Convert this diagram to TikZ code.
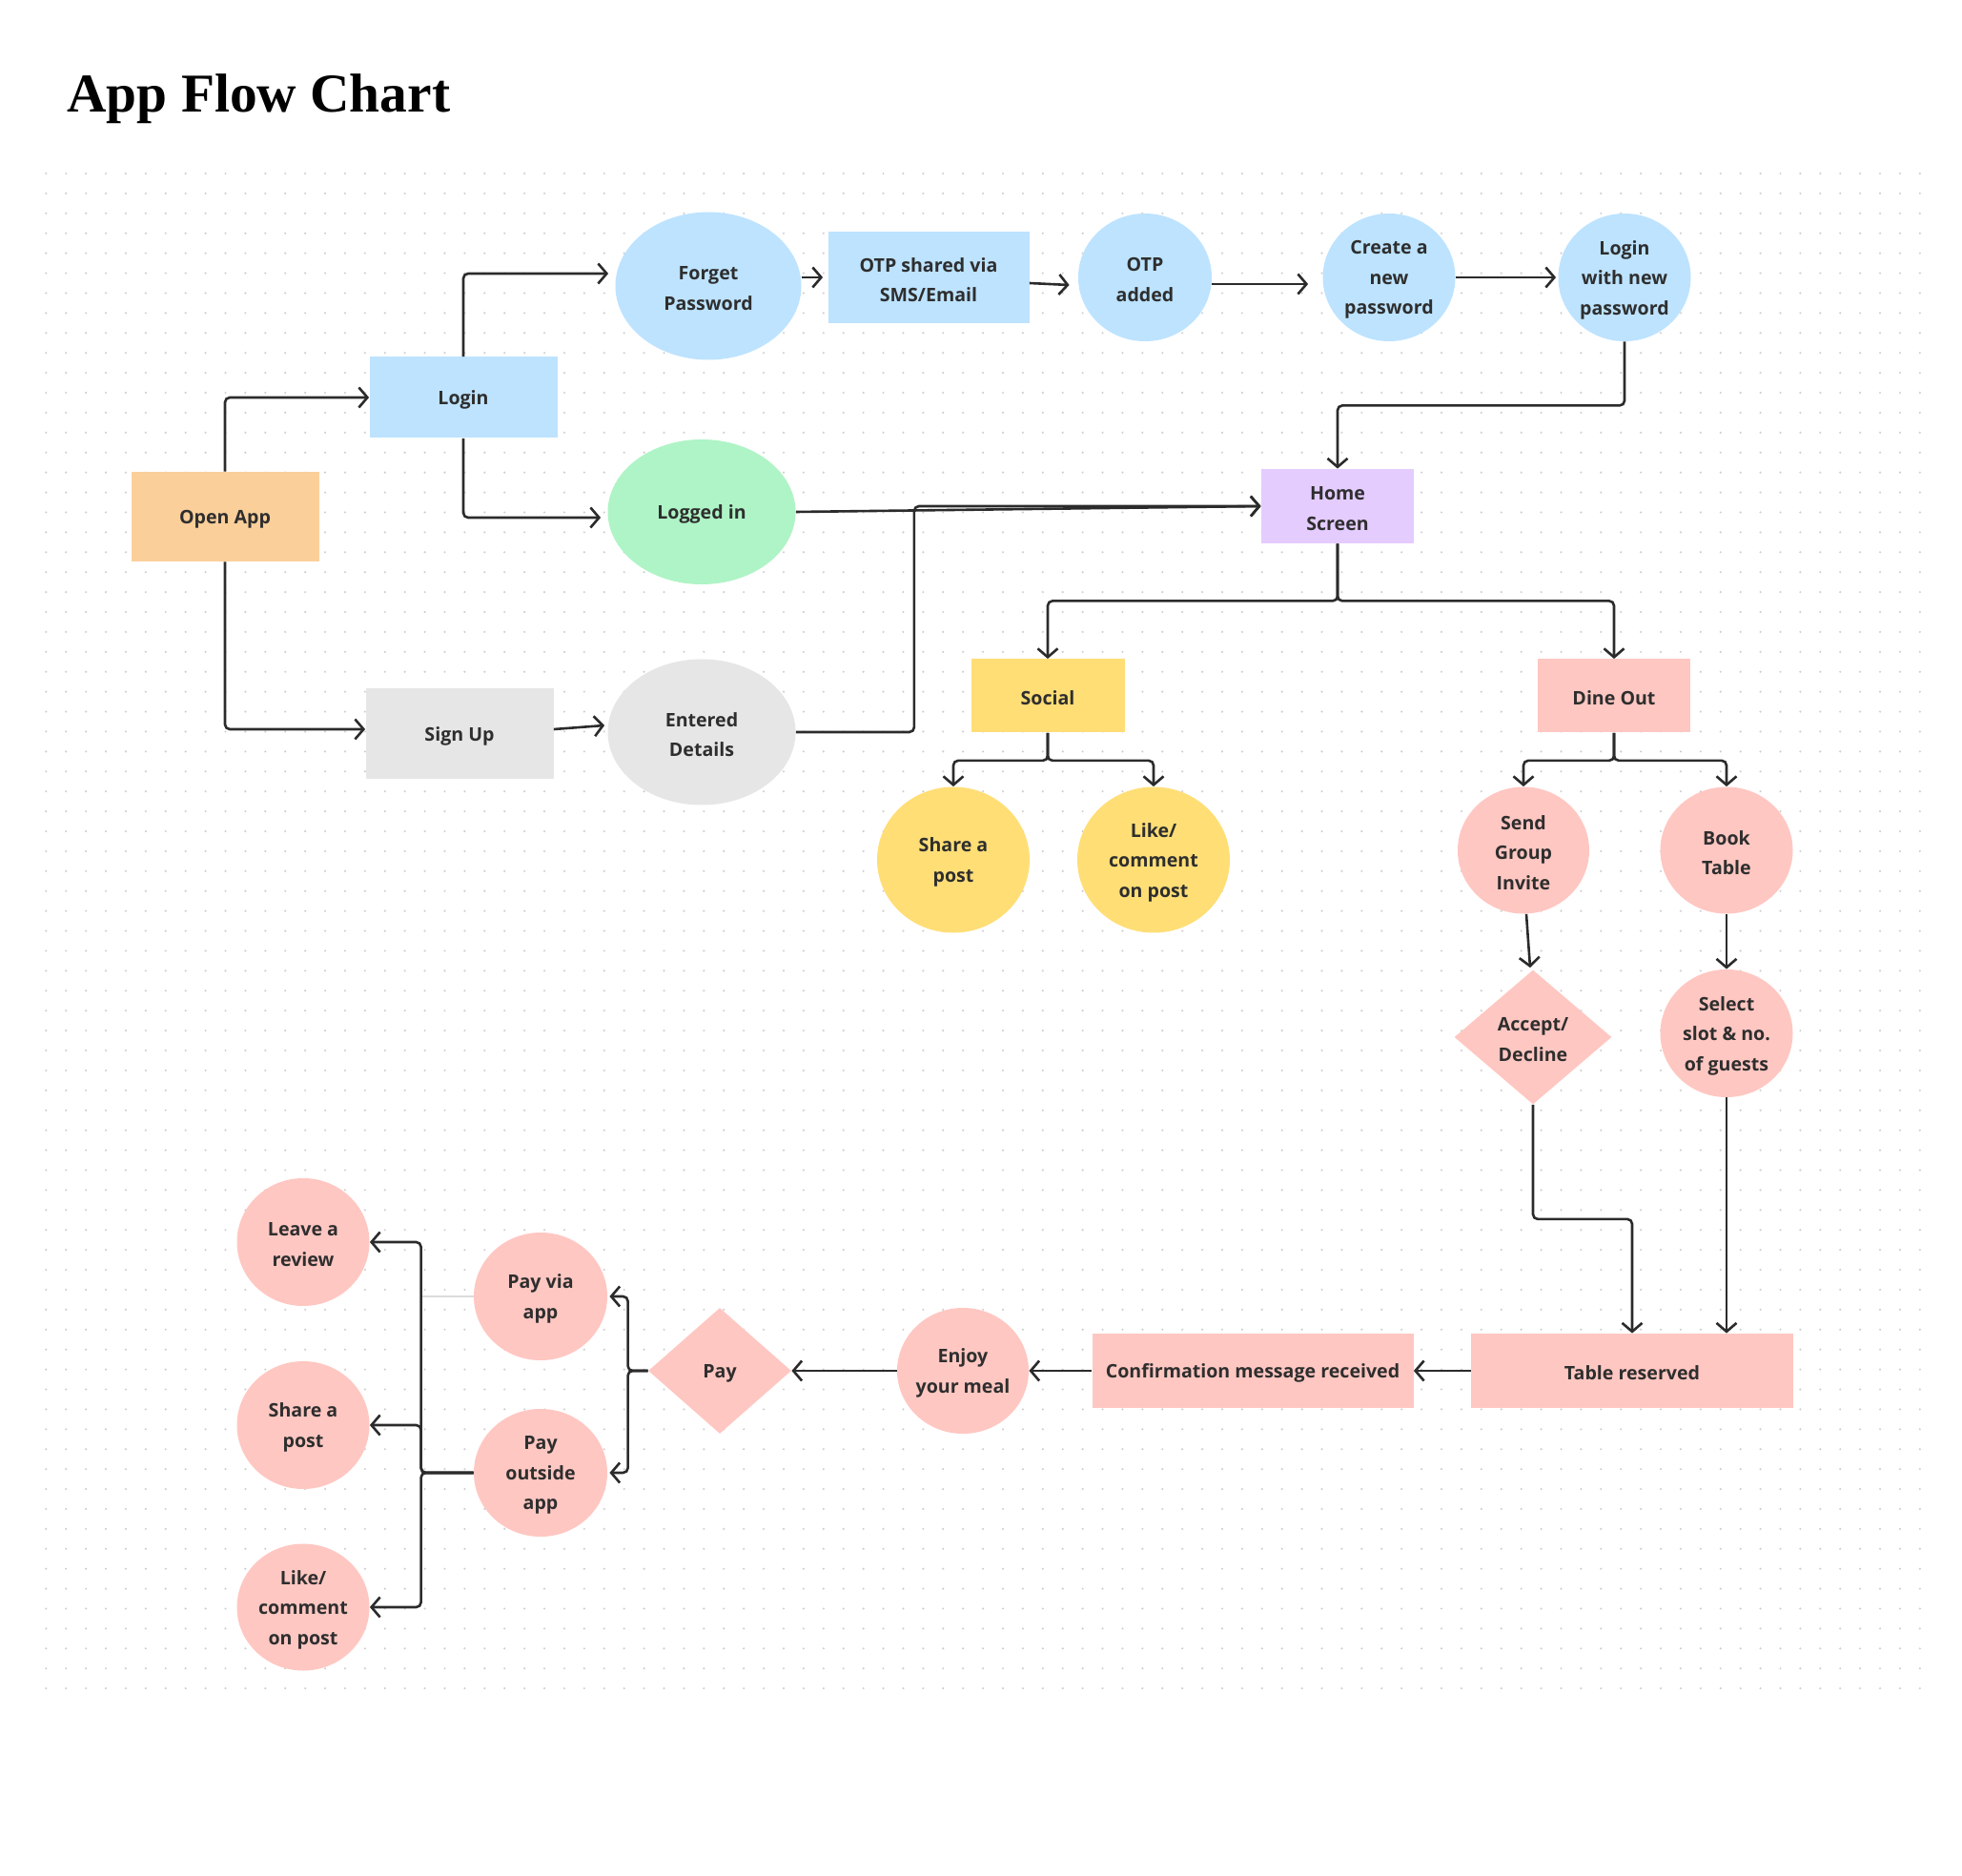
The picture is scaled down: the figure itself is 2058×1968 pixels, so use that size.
\documentclass[tikz,border=0pt]{standalone}
\usepackage{fontspec}
\setmainfont{Open Sans}
\newfontfamily\titlefont{Liberation Serif}
\usetikzlibrary{shapes.geometric,arrows.meta,calc}
\definecolor{ink}{HTML}{2E2E2E}
\definecolor{linec}{HTML}{2B2B2B}
\definecolor{dotc}{HTML}{D0D0D0}
\definecolor{faint}{HTML}{DCDCDC}
\definecolor{peach}{HTML}{FBCF9A}
\definecolor{sky}{HTML}{BDE3FF}
\definecolor{mint}{HTML}{AFF4C6}
\definecolor{mist}{HTML}{E6E6E6}
\definecolor{lilac}{HTML}{E4CCFF}
\definecolor{sun}{HTML}{FFDE76}
\definecolor{rose}{HTML}{FFC7C2}

% shape node plus its centred caption:
% #1 style, #2 width, #3 height (px), #4 name, #5 position, #6 caption
\newcommand\flownode[6]{%
  \node[#1, sz={#2}{#3}] (#4) at (#5) {};
  \node[lbl] (#4-t) at ([yshift=-1.3pt]#4.center) {#6};}

\begin{document}
\begin{tikzpicture}[x=0.5pt,y=-0.5pt,
  lbl/.style={font=\fontsize{9.8}{15.75}\selectfont\bfseries, text=ink, align=center, inner sep=0pt},
  sz/.style 2 args={minimum width=#1*0.5pt, minimum height=#2*0.5pt, inner sep=0pt, draw=none},
  box/.style={rectangle},
  oval/.style={ellipse},
  dia/.style={diamond, aspect=1},
  link/.style={draw=linec, line width=1.3pt, rounded corners=2.5pt,
    -{Straight Barb[length=4.5pt,width=10.5pt]}},
]
% page and background grid of dots
\fill[white] (0,0) rectangle (2058,1968);
\useasboundingbox (0,0) rectangle (2058,1968);
\foreach \j in {0,...,76}{
  \fill[dotc] \foreach \i in {0,...,94}{ ({48.3+20.91*\i},{182+20.91*\j}) circle (0.6pt) };
}

% title
\node[anchor=base west, inner sep=0pt, text=black,
  font=\titlefont\bfseries\fontsize{28.7}{32}\selectfont] (title) at (70,118) {App Flow Chart};

% entry and authentication
\flownode{box, fill=peach}{197}{94}{open}{236,542}{Open App}
\flownode{box, fill=sky}{197}{85}{login}{486,417}{Login}
\flownode{box, fill=mist}{197}{95}{signup}{482,770}{Sign Up}
\flownode{oval, fill=sky}{195}{155}{forgot}{743,300}{Forget\\Password}
\flownode{oval, fill=mint}{197}{152}{loggedin}{736,537}{Logged in}
\flownode{oval, fill=mist}{197}{153}{entered}{736,768}{Entered\\Details}
\flownode{box, fill=sky}{211}{96}{otpshared}{974,291}{OTP shared via\\SMS/Email}
\flownode{oval, fill=sky}{140}{134}{otpadded}{1201,291}{OTP\\added}
\flownode{oval, fill=sky}{139}{134}{newpw}{1457,291}{Create a\\new\\password}
\flownode{oval, fill=sky}{139}{134}{loginnew}{1704,291}{Login\\with new\\password}

% home and branches
\flownode{box, fill=lilac}{160}{78}{home}{1403,531}{Home\\Screen}
\flownode{box, fill=sun}{161}{77}{social}{1099,730}{Social}
\flownode{box, fill=rose}{160}{77}{dine}{1693,730}{Dine Out}
\flownode{oval, fill=sun}{160}{153}{shareY}{1000,902}{Share a\\post}
\flownode{oval, fill=sun}{160}{153}{likeY}{1210,902}{Like/\\comment\\on post}
\flownode{oval, fill=rose}{138}{133}{invite}{1598,892}{Send\\Group\\Invite}
\flownode{oval, fill=rose}{139}{133}{book}{1811,892}{Book\\Table}
\flownode{dia, fill=rose}{165}{141}{accept}{1608,1088}{Accept/\\Decline}
\flownode{oval, fill=rose}{139}{134}{slot}{1811,1084}{Select\\slot \& no.\\of guests}
\flownode{box, fill=rose}{338}{78}{reserved}{1712,1438}{Table reserved}
\flownode{box, fill=rose}{337}{78}{confirm}{1314,1438}{Confirmation message received}
\flownode{oval, fill=rose}{138}{132}{enjoy}{1010,1438}{Enjoy\\your meal}
\flownode{dia, fill=rose}{150}{132}{pay}{755,1438}{Pay}
\flownode{oval, fill=rose}{140}{134}{payapp}{567,1360}{Pay via\\app}
\flownode{oval, fill=rose}{140}{134}{payout}{567,1545}{Pay\\outside\\app}
\flownode{oval, fill=rose}{139}{134}{review}{318,1303}{Leave a\\review}
\flownode{oval, fill=rose}{139}{134}{shareP}{318,1495}{Share a\\post}
\flownode{oval, fill=rose}{139}{133}{likeP}{318,1686}{Like/\\comment\\on post}

% connectors: authentication
\draw[link] (open.north) |- (login.west);
\draw[link] (open.south) |- ([yshift=2.5pt]signup.west);
\draw[link] (login.north) |- ([shift={(-7,-13)}]forgot.west);
\draw[link] (login.south) |- ([shift={(-7,6)}]loggedin.west);
\draw[link] ([shift={(0,-5)}]signup.east) -- ([shift={(-3,-7)}]entered.west);
\draw[link] ([shift={(0,-9)}]forgot.east) -- ([shift={(-5,0)}]otpshared.west);
\draw[link] ([shift={(0,6)}]otpshared.east) -- ([shift={(-9,8)}]otpadded.west);
\draw[link] ([shift={(0,7)}]otpadded.east) -- ([shift={(-15,7)}]newpw.west);
\draw[link] (newpw.east) -- ([shift={(-2,0)}]loginnew.west);
\draw[link] (loginnew.south) -- ++(0,67) -| (home.north);
\draw[link] (loggedin.east) -- (home.west);
\draw[link] (entered.east) -- ++(124,0) |- (home.west);

% connectors: home branches
\draw[link] (home.south) -- ++(0,60) -| (social.north);
\draw[link] (home.south) -- ++(0,60) -| (dine.north);
\draw[link] (social.south) -- ++(0,29) -| (shareY.north);
\draw[link] (social.south) -- ++(0,29) -| (likeY.north);
\draw[link] (dine.south) -- ++(0,29) -| (invite.north);
\draw[link] (dine.south) -- ++(0,29) -| (book.north);
\draw[link] ([shift={(3,0)}]invite.south) -- ([shift={(-3,-2)}]accept.north);
\draw[link] (book.south) -- (slot.north);
\draw[link] (accept.south) -- ++(0,120) -| (reserved.north);
\draw[link] (slot.south) -- (slot.south |- reserved.north);

% connectors: reservation to payment
\draw[link] (reserved.west) -- (confirm.east);
\draw[link] (confirm.west) -- (enjoy.east);
\draw[link] (enjoy.west) -- (pay.east);
\draw[link] (pay.west) -- ++(-21,0) |- ([xshift=1pt]payapp.east);
\draw[link] (pay.west) -- ++(-21,0) |- ([xshift=1pt]payout.east);
\draw[draw=faint, line width=0.8pt] (payapp.west) -- ++(-54,0);
\draw[link] (payout.west) -- ++(-55,0) |- (review.east);
\draw[link] (payout.west) -- ++(-55,0) |- (shareP.east);
\draw[link] (payout.west) -- ++(-55,0) |- (likeP.east);
\end{tikzpicture}
\end{document}
